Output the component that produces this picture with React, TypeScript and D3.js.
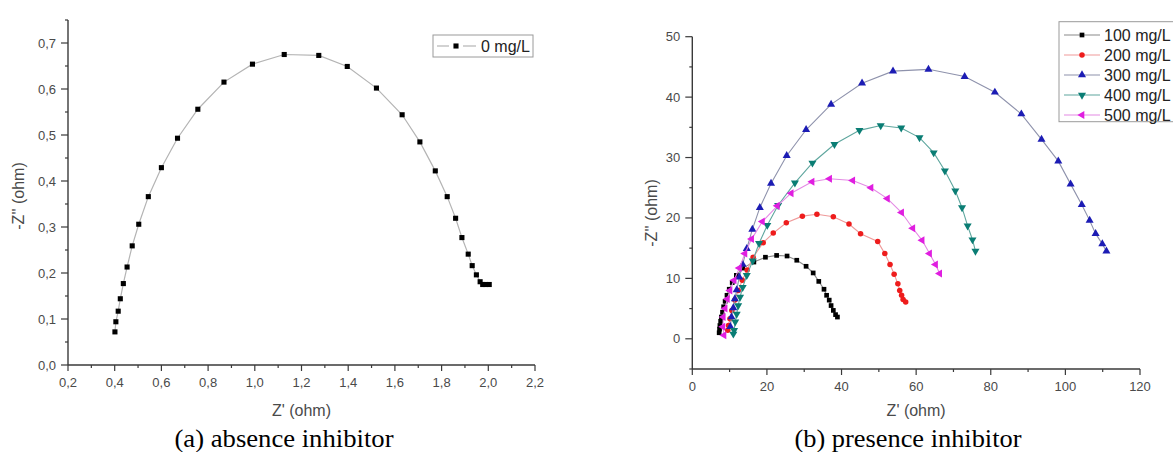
import React from 'react';
import * as d3 from 'd3';

const W = 1173;
const H = 452;

// (a) absence inhibitor, 0 mg/L
const blankZre = [0.401, 0.405, 0.415, 0.424, 0.437, 0.453, 0.475, 0.503, 0.544, 0.600, 0.669, 0.756, 0.868, 0.990, 1.126, 1.274, 1.396, 1.521, 1.631, 1.707, 1.773, 1.824, 1.860, 1.887, 1.914, 1.931, 1.949, 1.965, 1.976, 1.988, 2.004];
const blankZim = [0.072, 0.094, 0.117, 0.144, 0.177, 0.213, 0.259, 0.306, 0.366, 0.429, 0.493, 0.556, 0.615, 0.654, 0.675, 0.673, 0.649, 0.602, 0.544, 0.485, 0.422, 0.366, 0.319, 0.277, 0.241, 0.216, 0.196, 0.181, 0.175, 0.175, 0.175];

// (b) presence inhibitor
const zre100 = [7.2, 7.3, 7.4, 7.6, 7.8, 8.1, 8.4, 8.8, 9.3, 9.9, 10.7, 11.8, 13.5, 16.5, 19.6, 22.6, 25.4, 28.0, 30.5, 32.4, 33.9, 35.3, 36.0, 36.7, 37.2, 37.8, 38.4, 38.9];
const zim100 = [1.0, 1.6, 2.2, 2.9, 3.6, 4.4, 5.3, 6.2, 7.2, 8.2, 9.3, 10.5, 11.7, 12.7, 13.5, 13.8, 13.7, 13.0, 12.0, 10.9, 9.5, 8.2, 7.2, 6.4, 5.5, 4.7, 4.0, 3.6];

const zre200 = [9.5, 9.7, 10.1, 10.6, 11.4, 12.3, 13.4, 14.7, 16.3, 19.0, 21.7, 25.2, 29.5, 33.4, 37.8, 42.0, 45.1, 49.7, 51.6, 53.0, 54.1, 55.1, 55.6, 56.1, 56.5, 57.2];
const zim200 = [1.4, 2.2, 3.3, 4.7, 6.4, 8.0, 9.7, 11.4, 13.5, 15.9, 17.5, 19.2, 20.3, 20.6, 20.2, 19.0, 17.4, 16.1, 14.1, 12.3, 10.7, 9.1, 8.0, 7.2, 6.5, 6.1];

const zre300 = [10.2, 10.5, 11.0, 11.4, 11.9, 12.6, 13.5, 14.6, 16.1, 18.1, 21.1, 25.3, 30.5, 37.2, 45.5, 53.8, 63.3, 73.0, 81.1, 88.2, 93.6, 98.1, 101.4, 104.4, 106.5, 108.1, 109.9, 111.0];
const zim300 = [2.0, 3.6, 5.1, 6.6, 8.1, 10.2, 12.3, 14.9, 18.1, 21.7, 25.7, 30.3, 34.6, 38.8, 42.3, 44.3, 44.6, 43.4, 40.8, 37.2, 33.0, 29.4, 25.6, 22.2, 19.6, 17.4, 15.7, 14.5];

const zre400 = [11.0, 11.2, 11.5, 11.9, 12.3, 12.8, 13.5, 14.6, 16.2, 17.9, 20.1, 23.0, 27.5, 32.2, 38.1, 44.8, 50.5, 56.0, 60.9, 64.7, 67.7, 70.5, 72.3, 73.8, 75.1, 75.9];
const zim400 = [0.8, 1.4, 2.8, 4.1, 5.5, 6.9, 8.5, 10.5, 12.9, 15.8, 18.8, 22.1, 25.8, 29.1, 32.2, 34.5, 35.3, 34.9, 33.3, 30.8, 27.8, 24.5, 21.7, 18.7, 16.4, 14.5];

const zre500 = [8.5, 8.2, 8.3, 8.8, 9.4, 10.1, 11.2, 12.6, 14.1, 15.9, 18.8, 22.8, 26.5, 32.1, 36.8, 43.0, 47.9, 52.3, 56.1, 59.1, 61.6, 63.6, 65.2, 66.3];
const zim500 = [0.6, 2.0, 3.6, 5.0, 6.6, 8.0, 9.7, 11.7, 14.1, 16.5, 19.4, 22.0, 24.1, 26.0, 26.5, 26.2, 25.0, 23.2, 20.9, 18.3, 16.3, 14.1, 12.3, 10.8];

const seriesNames = ['100 mg/L', '200 mg/L', '300 mg/L', '400 mg/L', '500 mg/L'];
const seriesRe = [zre100, zre200, zre300, zre400, zre500];
const seriesIm = [zim100, zim200, zim300, zim400, zim500];
const seriesColors = ['#000000', '#ee1c1c', '#1c1cb4', '#0a7d74', '#e01ee0'];
const lineColors = ['#8a8a8a', '#ef9a9a', '#8e92ac', '#5ea69e', '#e48ae4'];
const seriesShapes = ['square', 'circle', 'up', 'down', 'left'];

const xTicksA = [0.2, 0.4, 0.6, 0.8, 1.0, 1.2, 1.4, 1.6, 1.8, 2.0, 2.2];
const yTicksA = [0.0, 0.1, 0.2, 0.3, 0.4, 0.5, 0.6, 0.7];
const xTicksB = [0, 20, 40, 60, 80, 100, 120];
const yTicksB = [0, 10, 20, 30, 40, 50];

const FONT = '"Liberation Sans", Arial, Helvetica, sans-serif';
const SERIF = '"Liberation Serif", "Times New Roman", serif';
const AXIS = '#3a3a3a';
const TXT = '#4a4a4a';

const comma = (v: number) => d3.format('.1f')(v).replace('.', ',');

function marker(shape: string, size: number) {
  const type = shape === 'square' ? d3.symbolSquare : shape === 'circle' ? d3.symbolCircle : d3.symbolTriangle;
  const rot = shape === 'down' ? 180 : shape === 'left' ? -90 : 0;
  return { d: d3.symbol().type(type).size(size)() as string, rot };
}

function AxisBottom({ scale, y, ticks, minor, fmt }: any) {
  const [x0, x1] = scale.range();
  return (
    <g>
      <line x1={x0} x2={x1} y1={y} y2={y} stroke={AXIS} strokeWidth={1.4} />
      {minor.map((t: number, i: number) => (
        <line key={'m' + i} x1={scale(t)} x2={scale(t)} y1={y} y2={y + 3} stroke={AXIS} strokeWidth={1.2} />
      ))}
      {ticks.map((t: number, i: number) => (
        <g key={i}>
          <line x1={scale(t)} x2={scale(t)} y1={y} y2={y + 6} stroke={AXIS} strokeWidth={1.2} />
          <text x={scale(t)} y={y + 22} textAnchor="middle" fontSize={13} fill={TXT} fontFamily={FONT}>{fmt(t)}</text>
        </g>
      ))}
    </g>
  );
}

function AxisLeft({ scale, x, ticks, minor, fmt }: any) {
  const [y0, y1] = scale.range();
  return (
    <g>
      <line x1={x} x2={x} y1={y0} y2={y1} stroke={AXIS} strokeWidth={1.4} />
      {minor.map((t: number, i: number) => (
        <line key={'m' + i} x1={x - 3} x2={x} y1={scale(t)} y2={scale(t)} stroke={AXIS} strokeWidth={1.2} />
      ))}
      {ticks.map((t: number, i: number) => (
        <g key={i}>
          <line x1={x - 7} x2={x} y1={scale(t)} y2={scale(t)} stroke={AXIS} strokeWidth={1.2} />
          <text x={x - 12} y={scale(t) + 4.5} textAnchor="end" fontSize={13} fill={TXT} fontFamily={FONT}>{fmt(t)}</text>
        </g>
      ))}
    </g>
  );
}

export default function App() {
  // panel (a)
  const xA = d3.scaleLinear().domain([0.2, 2.2]).range([68, 535]);
  const yA = d3.scaleLinear().domain([0, 0.75]).range([365, 20]);
  const minorXA = d3.range(0.3, 2.2, 0.2);
  const minorYA = d3.range(0.05, 0.76, 0.1);
  const ptsA = blankZre.map((v, i) => [v, blankZim[i]] as [number, number]);
  const lineA = d3.line<[number, number]>().x(d => xA(d[0])).y(d => yA(d[1]));

  // panel (b)
  const xB = d3.scaleLinear().domain([0, 120]).range([692.3, 1140]);
  const yB = d3.scaleLinear().domain([-5, 50]).range([369, 36.7]);
  const minorXB = d3.range(10, 120, 20);
  const minorYB = d3.range(-5, 50, 10);
  const lineB = d3.line<[number, number]>().x(d => xB(d[0])).y(d => yB(d[1]));

  const sq = marker('square', 26);

  return (
    <svg width={W} height={H} style={{ display: 'block', background: '#fff' }}>
      <style>{'body{margin:0}'}</style>

      {/* (a) */}
      <AxisBottom scale={xA} y={365} ticks={xTicksA} minor={minorXA} fmt={comma} />
      <AxisLeft scale={yA} x={68} ticks={yTicksA} minor={minorYA} fmt={comma} />
      <path d={lineA(ptsA) as string} fill="none" stroke="#b4b4b4" strokeWidth={1.2} />
      {ptsA.map((p, i) => (
        <path key={i} d={sq.d} transform={`translate(${xA(p[0])},${yA(p[1])})`} fill="#000" />
      ))}
      <text x={(68 + 535) / 2} y={416} textAnchor="middle" fontSize={16} fill={TXT} fontFamily={FONT}>Z' (ohm)</text>
      <text transform="translate(24,196) rotate(-90)" textAnchor="middle" fontSize={16} fill={TXT} fontFamily={FONT}>-Z'' (ohm)</text>
      <rect x={433} y={35} width={100} height={22} fill="#fff" stroke="#9a9a9a" strokeWidth={1} />
      <line x1={437} x2={449} y1={46} y2={46} stroke="#b4b4b4" strokeWidth={1.2} />
      <line x1={463} x2={476} y1={46} y2={46} stroke="#b4b4b4" strokeWidth={1.2} />
      <path d={sq.d} transform="translate(456,46)" fill="#000" />
      <text x={481} y={51.5} fontSize={16} fill="#222" fontFamily={FONT}>0 mg/L</text>
      <text x={284} y={447} textAnchor="middle" fontSize={25} textLength={219} lengthAdjust="spacingAndGlyphs" fill="#000" fontFamily={SERIF}>(a) absence inhibitor</text>

      {/* (b) */}
      <AxisBottom scale={xB} y={369} ticks={xTicksB} minor={minorXB} fmt={(v: number) => String(v)} />
      <AxisLeft scale={yB} x={692.3} ticks={yTicksB} minor={minorYB} fmt={(v: number) => String(v)} />
      {seriesNames.map((name, s) => {
        const pts = seriesRe[s].map((v, i) => [v, seriesIm[s][i]] as [number, number]);
        const m = marker(seriesShapes[s], seriesShapes[s] === 'circle' ? 24 : seriesShapes[s] === 'square' ? 22 : 28);
        return (
          <g key={name}>
            <path d={lineB(pts) as string} fill="none" stroke={lineColors[s]} strokeWidth={1.1} />
            {pts.map((p, i) => (
              <path key={i} d={m.d} transform={`translate(${xB(p[0])},${yB(p[1])}) rotate(${m.rot})`} fill={seriesColors[s]} />
            ))}
          </g>
        );
      })}
      <text x={(692.3 + 1140) / 2} y={416} textAnchor="middle" fontSize={16} fill={TXT} fontFamily={FONT}>Z' (ohm)</text>
      <text transform="translate(656.5,213) rotate(-90)" textAnchor="middle" fontSize={16} fill={TXT} fontFamily={FONT}>-Z'' (ohm)</text>
      <rect x={1059} y={21.7} width={130} height={100} fill="#fff" stroke="#9a9a9a" strokeWidth={1} />
      {seriesNames.map((name, s) => {
        const m = marker(seriesShapes[s], seriesShapes[s] === 'circle' ? 24 : seriesShapes[s] === 'square' ? 22 : 28);
        const cy = 35 + s * 20;
        return (
          <g key={name}>
            <line x1={1064} x2={1100} y1={cy} y2={cy} stroke={lineColors[s]} strokeWidth={1.2} />
            <path d={m.d} transform={`translate(1082,${cy}) rotate(${m.rot})`} fill={seriesColors[s]} />
            <text x={1104} y={cy + 5.5} fontSize={16} fill="#222" fontFamily={FONT}>{name}</text>
          </g>
        );
      })}
      <text x={908} y={447} textAnchor="middle" fontSize={25} textLength={227} lengthAdjust="spacingAndGlyphs" fill="#000" fontFamily={SERIF}>(b) presence inhibitor</text>
    </svg>
  );
}
